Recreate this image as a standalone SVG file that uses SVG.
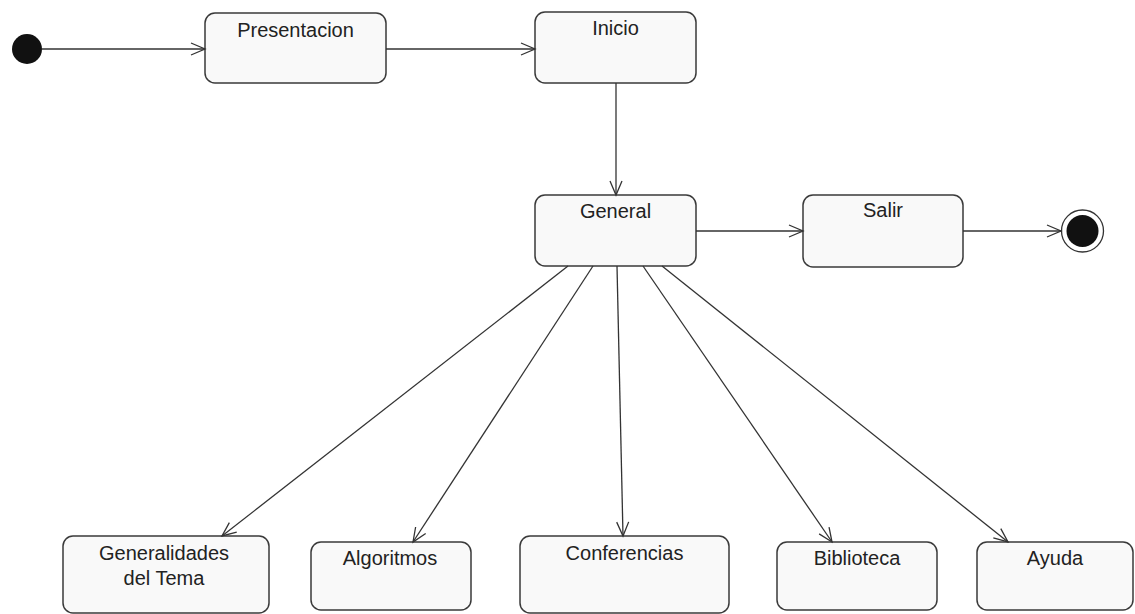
<svg xmlns="http://www.w3.org/2000/svg" width="1135" height="614" viewBox="0 0 1135 614">
<style>
.box{fill:#f9f9f9;stroke:#3a3a3a;stroke-width:1.5}
.lbl{font-family:"Liberation Sans",Arial,sans-serif;font-size:20px;fill:#222;text-anchor:middle}
.conn line{stroke:#333;stroke-width:1.3;fill:none;marker-end:url(#arr)}
</style>
<defs>
<marker id="arr" markerUnits="userSpaceOnUse" markerWidth="20" markerHeight="20" refX="0" refY="0" viewBox="-16 -10 18 20" orient="auto">
<path d="M-14,-6 L0,0 L-14,6" fill="none" stroke="#333" stroke-width="1.3"/>
</marker>
</defs>
<rect width="1135" height="614" fill="#ffffff"/>
<g id="initial"><circle cx="27" cy="49" r="15" fill="#111"/></g>
<g id="presentacion"><rect class="box" x="205" y="13" width="181" height="70" rx="10"/><text class="lbl" x="295.5" y="37">Presentacion</text></g>
<g id="inicio"><rect class="box" x="535" y="12" width="161" height="71" rx="10"/><text class="lbl" x="615.5" y="35">Inicio</text></g>
<g id="general"><rect class="box" x="535" y="195" width="161" height="71" rx="10"/><text class="lbl" x="615.5" y="218">General</text></g>
<g id="salir"><rect class="box" x="803" y="195" width="160" height="72" rx="10"/><text class="lbl" x="883" y="217">Salir</text></g>
<g id="final"><circle cx="1082.5" cy="231" r="21" fill="#fff" stroke="#333" stroke-width="1.3"/><circle cx="1082.5" cy="231" r="16" fill="#111"/></g>
<g id="generalidades"><rect class="box" x="63" y="536" width="206" height="77" rx="10"/><text class="lbl" x="164" y="560">Generalidades</text><text class="lbl" x="164" y="585">del Tema</text></g>
<g id="algoritmos"><rect class="box" x="311" y="542" width="160" height="68" rx="10"/><text class="lbl" x="390" y="565">Algoritmos</text></g>
<g id="conferencias"><rect class="box" x="520" y="536" width="209" height="77" rx="10"/><text class="lbl" x="624.5" y="560">Conferencias</text></g>
<g id="biblioteca"><rect class="box" x="777" y="542" width="160" height="68" rx="10"/><text class="lbl" x="857" y="565">Biblioteca</text></g>
<g id="ayuda"><rect class="box" x="977" y="542" width="156" height="68" rx="10"/><text class="lbl" x="1055" y="565">Ayuda</text></g>
<g id="connectors" class="conn">
<line x1="42" y1="49" x2="205" y2="49"/>
<line x1="386" y1="49" x2="535" y2="49"/>
<line x1="616" y1="83" x2="616" y2="195"/>
<line x1="696" y1="231" x2="803" y2="231"/>
<line x1="963" y1="231" x2="1061" y2="231"/>
<line x1="568" y1="266" x2="222" y2="536"/>
<line x1="593" y1="266" x2="413" y2="542"/>
<line x1="617" y1="266" x2="623" y2="536"/>
<line x1="643" y1="266" x2="832" y2="542"/>
<line x1="662" y1="266" x2="1008" y2="542"/>
</g>
</svg>
